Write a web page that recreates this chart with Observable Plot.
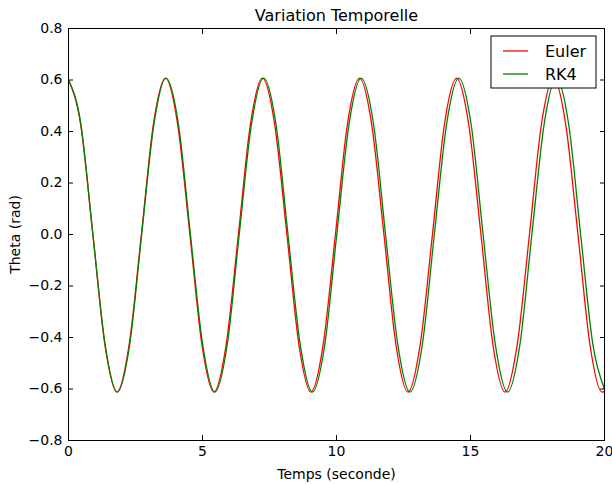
<!DOCTYPE html>
<html>
<head>
<meta charset="utf-8">
<script src="https://cdn.jsdelivr.net/npm/d3@7"></script>
<script src="https://cdn.jsdelivr.net/npm/@observablehq/plot@0.6"></script>
<style>
  html, body { margin: 0; padding: 0; background: white; }
  #chart { position: relative; width: 612px; height: 484px; }
</style>
</head>
<body>
<div id="chart"></div>
<script>
const title = "Variation Temporelle";
const xLabel = "Temps (seconde)";
const yLabel = "Theta (rad)";
const seriesNames = ["Euler", "RK4"];
const seriesColors = ["#ff0000", "#008000"];
const xTicks = [0, 5, 10, 15, 20];
const yTicks = [-0.8, -0.6, -0.4, -0.2, 0.0, 0.2, 0.4, 0.6, 0.8];

// Euler (period slightly shorter)
const eulerT = [0, 0.45, 0.91, 1.36, 1.81, 2.26, 2.72, 3.17, 3.62, 4.07, 4.53, 4.98, 5.43, 5.88, 6.34, 6.79, 7.24, 7.69, 8.15, 8.60, 9.05, 9.50, 9.96, 10.41, 10.86, 11.31, 11.77, 12.22, 12.67, 13.12, 13.58, 14.03, 14.48, 14.93, 15.39, 15.84, 16.29, 16.74, 17.20, 17.65, 18.10, 18.55, 19.01, 19.46, 19.91, 20.0];
const eulerTheta = [0.60, 0.43, 0.00, -0.43, -0.612, -0.43, 0.00, 0.43, 0.607, 0.43, 0.00, -0.43, -0.612, -0.43, 0.00, 0.43, 0.607, 0.43, 0.00, -0.43, -0.612, -0.43, 0.00, 0.43, 0.607, 0.43, 0.00, -0.43, -0.612, -0.43, 0.00, 0.43, 0.607, 0.43, 0.00, -0.43, -0.612, -0.43, 0.00, 0.43, 0.607, 0.43, 0.00, -0.43, -0.612, -0.609];

// RK4
const rk4T = [0, 0.46, 0.91, 1.37, 1.82, 2.28, 2.73, 3.19, 3.64, 4.10, 4.55, 5.01, 5.46, 5.92, 6.37, 6.83, 7.28, 7.74, 8.19, 8.65, 9.10, 9.56, 10.01, 10.47, 10.92, 11.38, 11.83, 12.29, 12.74, 13.20, 13.65, 14.11, 14.56, 15.02, 15.47, 15.93, 16.38, 16.84, 17.29, 17.75, 18.20, 18.66, 19.11, 19.57, 20.0];
const rk4Theta = [0.60, 0.43, 0.00, -0.43, -0.612, -0.43, 0.00, 0.43, 0.607, 0.43, 0.00, -0.43, -0.612, -0.43, 0.00, 0.43, 0.607, 0.43, 0.00, -0.43, -0.612, -0.43, 0.00, 0.43, 0.607, 0.43, 0.00, -0.43, -0.612, -0.43, 0.00, 0.43, 0.607, 0.43, 0.00, -0.43, -0.612, -0.43, 0.00, 0.43, 0.607, 0.43, 0.00, -0.43, -0.60];

const eulerData = eulerT.map((t, i) => ({t, theta: eulerTheta[i]}));
const rk4Data = rk4T.map((t, i) => ({t, theta: rk4Theta[i]}));
const fmtY = d3.format(".1f");

const plot = Plot.plot({
  width: 612,
  height: 484,
  marginLeft: 68,
  marginRight: 8,
  marginTop: 28,
  marginBottom: 44,
  style: {fontFamily: "DejaVu Sans", fontSize: "13px", background: "white", color: "black", overflow: "visible"},
  x: {domain: [0, 20]},
  y: {domain: [-0.8, 0.8]},
  marks: [
    Plot.line(eulerData, {x: "t", y: "theta", stroke: seriesColors[0], strokeWidth: 1.3, curve: "monotone-x"}),
    Plot.line(rk4Data, {x: "t", y: "theta", stroke: seriesColors[1], strokeWidth: 1.3, curve: "monotone-x"}),
    Plot.frame({stroke: "black", strokeWidth: 1}),
    Plot.axisX({ticks: xTicks, tickSize: -5, tickPadding: 11, tickFormat: d => String(d), label: xLabel, labelAnchor: "center", labelArrow: "none", labelOffset: 38, fontSize: 14}),
    Plot.axisX({ticks: xTicks, anchor: "top", tickSize: -5, tickFormat: () => "", label: null}),
    Plot.axisY({ticks: yTicks, tickSize: -5, tickPadding: 11, tickFormat: d => fmtY(d), label: yLabel, labelAnchor: "center", labelArrow: "none", labelOffset: 58, fontSize: 14}),
    Plot.axisY({ticks: yTicks, anchor: "right", tickSize: -5, tickFormat: () => "", label: null}),
    Plot.text([title], {frameAnchor: "top", dy: -13, fontSize: 16, lineAnchor: "middle", text: d => d})
  ]
});

document.getElementById("chart").appendChild(plot);

// Legend box (upper right)
const svg = d3.select(plot);
const lg = svg.append("g").attr("font-family", "DejaVu Sans").attr("font-size", 16).attr("text-anchor", "start");
lg.append("rect").attr("x", 491).attr("y", 36).attr("width", 105).attr("height", 52)
  .attr("fill", "white").attr("stroke", "black").attr("stroke-width", 1);
seriesNames.forEach((name, i) => {
  const cy = 51 + i * 23;
  lg.append("line").attr("x1", 503).attr("x2", 528).attr("y1", cy).attr("y2", cy)
    .attr("stroke", seriesColors[i]).attr("stroke-width", 1.3);
  lg.append("text").attr("x", 545).attr("y", cy + 6).attr("fill", "black").attr("text-anchor", "start").text(name);
});
</script>
</body>
</html>
